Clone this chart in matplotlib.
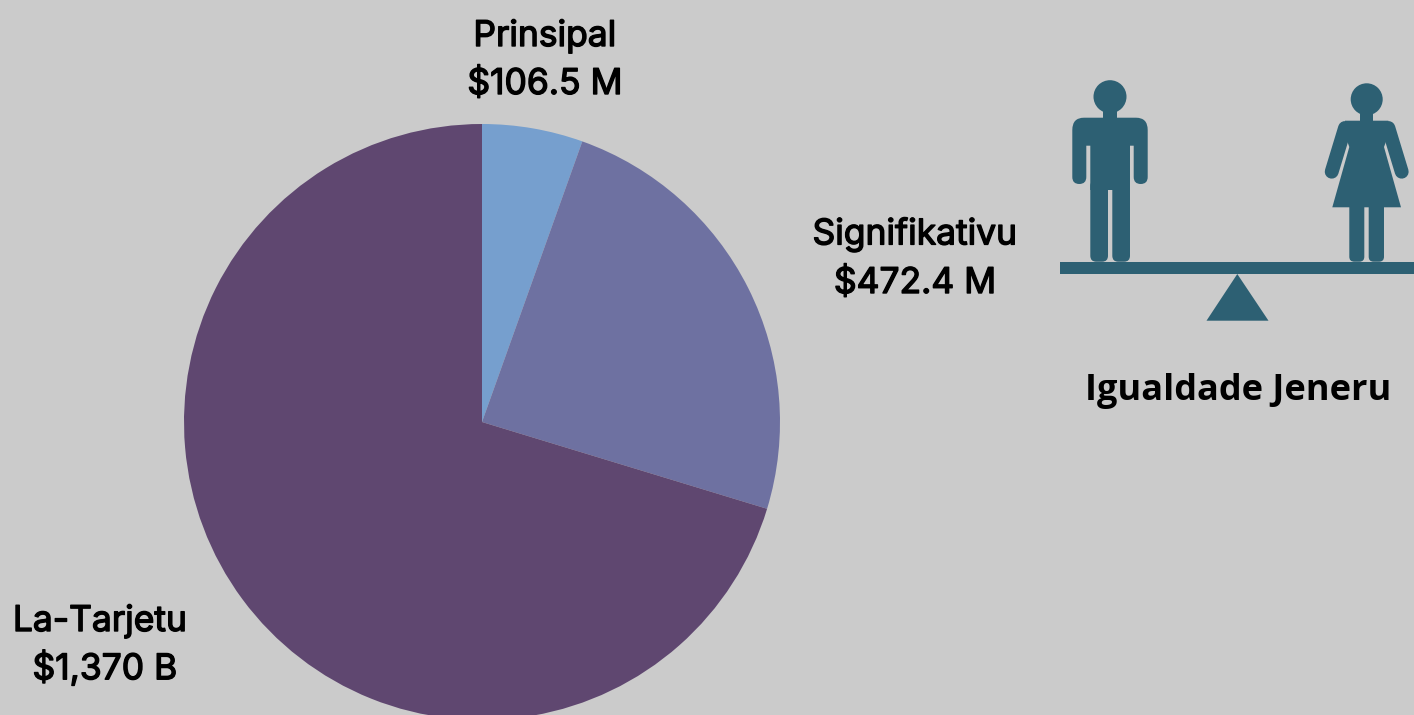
import matplotlib
matplotlib.use('Agg')
import matplotlib.pyplot as plt
import matplotlib.patheffects as pe
from matplotlib.path import Path
from matplotlib.patches import Circle, Polygon, FancyBboxPatch, Rectangle, PathPatch

# data
labels = ['Prinsipal', 'Signifikativu', 'La-Tarjetu']
amounts = ['$106.5 M', '$472.4 M', '$1,370 B']
values = [106.5, 472.4, 1370]
colors = ['#769fce', '#6e71a1', '#5f4770']
bg = '#cbcbcb'
teal = '#2d6073'

W, H = 1414, 715
fig = plt.figure(figsize=(W / 100, H / 100), dpi=100, facecolor=bg)

# pie, radius 298 px, centre at 482,422
ax = fig.add_axes([(482 - 298) / W, 1 - (422 + 298) / H, 596 / W, 596 / H])
ax.pie(values, colors=colors, startangle=90, counterclock=False, radius=1)
ax.set_xlim(-1, 1)
ax.set_ylim(-1, 1)
ax.set_aspect('equal')

# overlay in pixel coords for text and the icon
ov = fig.add_axes([0, 0, 1, 1])
ov.set_xlim(0, W)
ov.set_ylim(H, 0)
ov.axis('off')

size = 25.5
heavier = [pe.withStroke(linewidth=1.0, foreground='black')]


def label(x, y, s):
    ov.text(x, y, s, ha='center', va='center', fontsize=size, family='Inter',
            color='black', path_effects=heavier)


label(545, 36, labels[0])
label(545, 84, amounts[0])
label(915, 234, labels[1])
label(915, 283, amounts[1])
label(100, 621, labels[2])
label(105, 668, amounts[2])
ov.text(1238, 391, 'Igualdade Jeneru', ha='center', va='center', fontsize=26, family='Open Sans', fontweight='bold', color='black')


def box(x0, y0, x1, y1, r):
    ov.add_patch(FancyBboxPatch((x0 + r, y0 + r), x1 - x0 - 2 * r, y1 - y0 - 2 * r,
                                boxstyle='round,pad=%g' % r, fc=teal, ec='none'))


def arm(x0, y0, x1, y1):
    ov.plot([x0, x1], [y0, y1], color=teal, lw=10, solid_capstyle='round')


# seesaw
ov.add_patch(Rectangle((1060, 262), 354, 11.5, fc=teal, ec='none'))
ov.add_patch(Polygon([(1237.3, 274), (1206.5, 320.7), (1268.5, 320.7)], fc=teal, ec='none'))

# man
ov.add_patch(Circle((1110, 96.7), 16.5, fc=teal, ec='none'))
ov.add_patch(Rectangle((1103.3, 108), 13.4, 12, fc=teal, ec='none'))
L, C, Q = Path.LINETO, Path.CLOSEPOLY, Path.CURVE3
body = [
    (Path.MOVETO, (1084, 117.7)), (L, (1136, 117.7)),
    (Q, (1147.7, 117.7)), (Q, (1147.7, 130)), (L, (1147.7, 177)),
    (Q, (1147.7, 184)), (Q, (1140.7, 184)), (Q, (1133.7, 184)), (Q, (1133.7, 177)),
    (L, (1133.7, 145.7)), (L, (1130, 145.7)), (L, (1130, 190)), (L, (1090.3, 190)),
    (L, (1090.3, 145.7)), (L, (1086.3, 145.7)), (L, (1086.3, 177)),
    (Q, (1086.3, 184)), (Q, (1079.3, 184)), (Q, (1072.3, 184)), (Q, (1072.3, 177)),
    (L, (1072.3, 130)), (Q, (1072.3, 117.7)), (Q, (1084, 117.7)), (C, (1084, 117.7)),
]
ov.add_patch(PathPatch(Path([p for c, p in body], [c for c, p in body]), fc=teal, ec='none'))
box(1090.3, 180, 1108, 261.7, 6)
box(1112.3, 180, 1130, 261.7, 6)

# woman
ov.add_patch(Circle((1366.7, 99.3), 16, fc=teal, ec='none'))
ov.add_patch(Rectangle((1360, 110), 13.4, 12, fc=teal, ec='none'))
ov.add_patch(Polygon([(1345, 120.7), (1388.4, 120.7), (1388.4, 135), (1384, 147), (1401, 207.3),
                      (1332.3, 207.3), (1349.3, 147), (1345, 135)], fc=teal, ec='none'))
arm(1345, 128, 1331.7, 171.7)
arm(1388.4, 128, 1401.7, 171.7)
box(1349.3, 200, 1364.3, 261.7, 5)
box(1368.7, 200, 1384, 261.7, 5)

fig.savefig('out.png', dpi=100, facecolor=bg)
